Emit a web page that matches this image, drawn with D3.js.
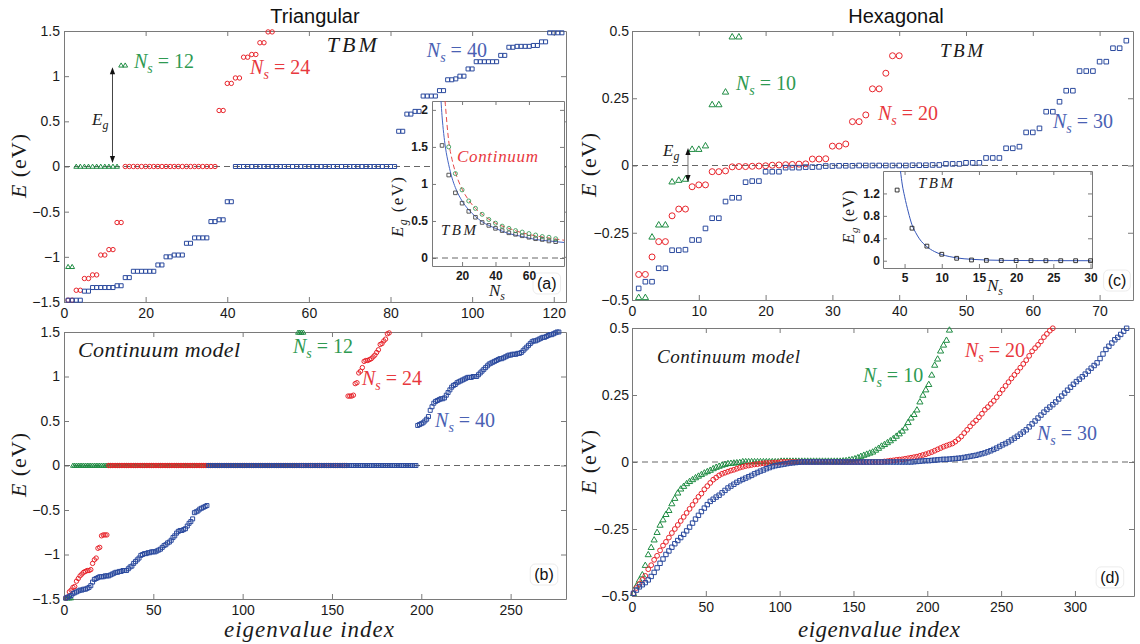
<!DOCTYPE html>
<html>
<head>
<meta charset="utf-8">
<script src="https://cdn.jsdelivr.net/npm/d3@7/dist/d3.min.js"></script>
<style>html,body{margin:0;padding:0;background:#fff}svg{display:block}</style>
</head>
<body>
<svg id="chart" width="1140" height="644" xmlns="http://www.w3.org/2000/svg"></svg>
<script>
// ================= DATA =================
// Eigenvalue index of the first entry of each spectrum
const indexStart = 1;

// (a) Triangular, TBM  (E in eV, index = 1,2,3,...)
const tbmTri12 = [-1.11,-1.11,0,0,0,0,0,0,0,0,0,0,0,1.12,1.12];
const tbmTri24 = [
 -1.48,-1.48,-1.37,-1.37,-1.24,-1.24,-1.20,-1.20,-0.98,-0.98,-0.92,-0.92,-0.62,-0.62,
 0,0,0,0,0,0,0,0,0,0,
 0,0,0,0,0,0,0,0,0,0,
 0,0,0,
 0.62,0.62,0.92,0.92,0.98,0.98,1.21,1.21,1.24,1.24,1.37,1.37,1.49,1.49];
const tbmTri40 = [
 -1.48,-1.48,-1.48,-1.48,-1.38,-1.38,-1.34,-1.34,-1.34,-1.34,
 -1.34,-1.34,-1.32,-1.32,-1.23,-1.23,-1.16,-1.16,-1.16,-1.16,
 -1.16,-1.16,-1.09,-1.09,-1.00,-1.00,-0.98,-0.98,-0.98,-0.85,
 -0.85,-0.79,-0.79,-0.79,-0.79,-0.61,-0.61,-0.59,-0.59,-0.39,
 -0.39,
 0,0,0,0,0,0,0,0,0,0,
 0,0,0,0,0,0,0,0,0,0,
 0,0,0,0,0,0,0,0,0,0,
 0,0,0,0,0,0,0,0,0,0,
 0.39,0.39,0.58,0.58,0.61,0.61,0.78,0.78,0.78,0.78,
 0.84,0.84,0.96,0.96,0.97,1.00,1.00,1.08,1.08,1.16,
 1.16,1.16,1.16,1.16,1.16,1.23,1.23,1.32,1.32,1.33,
 1.33,1.33,1.33,1.34,1.34,1.38,1.38,1.48,1.48,1.48,
 1.48];

// (a) inset: gap Eg vs Ns
const insetTriN_TBM = [8,12,16,20,24,28,32,36,40,44,48,52,56,60,64,68,72,76];
const insetTriEg_TBM = [1.52,1.12,0.88,0.74,0.63,0.55,0.48,0.44,0.40,0.37,0.34,0.32,0.30,0.28,0.26,0.25,0.23,0.22];
const insetTriN_Cont = [12,16,20,24,28,32,36,40,44,48,52,56,60,64,68,72,76];
const insetTriEg_Cont = [1.50,1.14,0.92,0.77,0.67,0.59,0.52,0.47,0.43,0.40,0.37,0.35,0.33,0.31,0.29,0.28,0.26];
const insetTriFitTBM_N = [7.4,8,9,10,12,14,16,20,24,28,32,40,48,56,64,72,81];
const insetTriFitTBM_E = [2.12,1.92,1.68,1.50,1.26,1.08,0.95,0.77,0.65,0.56,0.49,0.40,0.33,0.29,0.25,0.23,0.21];
const insetTriFitCont_N = [9.8,10,11,12,14,16,20,24,28,32,40,48,56,64,72,81];
const insetTriFitCont_E = [2.12,2.07,1.80,1.58,1.33,1.16,0.93,0.78,0.67,0.59,0.47,0.40,0.34,0.30,0.27,0.24];

// (b) Triangular, continuum model
const contTri12 = [
 -1.49,-1.49,-1.49,-1.49,
 0,0,0,0,0,0,0,0,0,0,
 0,0,0,0,0,0,0,0,0,0,
 0,0,0,0,0,0,0,0,0,0,
 0,0,0,0,0,0,0,0,0,0,
 0,0,0,0,0,0,0,0,0,0,
 0,0,0,0,0,0,0,0,0,0,
 0,0,0,0,0,0,0,0,0,0,
 0,0,0,0,0,0,0,0,0,0,
 0,0,0,0,0,0,0,0,0,0,
 0,0,0,0,0,0,0,0,0,0,
 0,0,0,0,0,0,0,0,0,0,
 0,0,0,0,0,0,0,0,0,0,
 0,0,0,0,0,0,
 1.495,1.495,1.495,1.495];
const contTri24 = [
 -1.49,-1.48,-1.42,-1.40,-1.37,-1.36,-1.30,-1.27,-1.24,-1.22,-1.20,-1.19,
 -1.18,-1.18,-1.17,-1.10,-1.06,-1.04,-0.93,-0.92,-0.79,-0.78,-0.78,-0.78,
 0,0,0,0,0,0,0,0,0,0,
 0,0,0,0,0,0,0,0,0,0,
 0,0,0,0,0,0,0,0,0,0,
 0,0,0,0,0,0,0,0,0,0,
 0,0,0,0,0,0,0,0,0,0,
 0,0,0,0,0,0,0,0,0,0,
 0,0,0,0,0,0,0,0,0,0,
 0,0,0,0,0,0,0,0,0,0,
 0,0,0,0,0,0,0,0,0,0,
 0,0,0,0,0,0,0,0,0,0,
 0,0,0,0,0,0,0,0,0,0,
 0,0,0,0,0,0,0,0,0,0,
 0,0,0,0,0,0,0,0,0,0,
 0,0,0,0,
 0.78,0.78,0.78,0.79,0.92,0.93,1.04,1.06,1.10,1.17,1.18,1.18,
 1.19,1.20,1.22,1.24,1.27,1.30,1.36,1.37,1.40,1.42,1.48,1.49];
const contTri40 = [
 -1.49,-1.48,-1.47,-1.46,-1.44,-1.43,-1.42,-1.41,-1.40,-1.40,
 -1.39,-1.39,-1.38,-1.37,-1.35,-1.31,-1.28,-1.27,-1.26,-1.25,
 -1.25,-1.25,-1.24,-1.24,-1.24,-1.23,-1.22,-1.21,-1.20,-1.20,
 -1.19,-1.19,-1.18,-1.18,-1.18,-1.16,-1.14,-1.13,-1.10,-1.08,
 -1.06,-1.04,-1.01,-1.00,-0.99,-0.99,-0.98,-0.98,-0.97,-0.97,
 -0.97,-0.96,-0.95,-0.94,-0.92,-0.90,-0.89,-0.87,-0.86,-0.84,
 -0.81,-0.79,-0.76,-0.74,-0.73,-0.73,-0.72,-0.71,-0.68,-0.65,
 -0.63,-0.60,-0.53,-0.52,-0.51,-0.49,-0.48,-0.47,-0.46,-0.45,
 0,0,0,0,0,0,0,0,0,0,
 0,0,0,0,0,0,0,0,0,0,
 0,0,0,0,0,0,0,0,0,0,
 0,0,0,0,0,0,0,0,0,0,
 0,0,0,0,0,0,0,0,0,0,
 0,0,0,0,0,0,0,0,0,0,
 0,0,0,0,0,0,0,0,0,0,
 0,0,0,0,0,0,0,0,0,0,
 0,0,0,0,0,0,0,0,0,0,
 0,0,0,0,0,0,0,0,0,0,
 0,0,0,0,0,0,0,0,0,0,
 0,0,0,0,0,0,0,
 0.45,0.46,0.47,0.48,0.50,0.52,0.55,0.62,0.66,0.70,
 0.72,0.73,0.74,0.75,0.75,0.76,0.79,0.82,0.85,0.88,
 0.90,0.91,0.93,0.94,0.95,0.96,0.97,0.98,0.99,0.99,
 0.99,1.00,1.00,1.00,1.02,1.04,1.06,1.08,1.10,1.12,
 1.14,1.15,1.16,1.17,1.18,1.19,1.20,1.20,1.21,1.22,
 1.23,1.24,1.24,1.25,1.25,1.25,1.26,1.26,1.27,1.29,
 1.31,1.33,1.35,1.37,1.39,1.40,1.40,1.41,1.42,1.43,
 1.44,1.44,1.45,1.46,1.47,1.47,1.48,1.49,1.50,1.50];

// (c) Hexagonal, TBM
const tbmHex10 = [-0.49,-0.49,-0.265,-0.22,-0.22,-0.06,-0.054,-0.05,0.061,0.061,0.074,0.227,0.227,0.274,0.479,0.479];
const tbmHex20 = [
 -0.405,-0.405,-0.34,-0.283,-0.283,-0.187,-0.162,-0.162,-0.079,-0.072,-0.072,-0.023,-0.023,-0.02,
 -0.005,-0.004,-0.004,-0.003,-0.002,-0.001,0.001,0.002,0.003,0.004,0.005,0.006,
 0.024,0.024,0.025,0.072,0.072,0.08,0.163,0.163,0.188,0.285,0.285,0.343,0.408,0.408];
const tbmHex30 = [
 -0.457,-0.432,-0.432,-0.382,-0.382,-0.315,-0.315,-0.313,-0.277,-0.277,-0.234,-0.196,-0.196,
 -0.134,-0.12,-0.12,-0.062,-0.058,-0.058,-0.023,-0.023,-0.023,-0.008,-0.008,-0.008,
 -0.006,-0.006,-0.005,-0.002,-0.002,-0.001,-0.001,-0.001,0,0,0,0,0,0,0,0,0.001,0.001,0.001,0.002,0.002,0.006,0.006,0.006,
 0.01,0.01,0.01,0.028,0.028,0.028,0.064,0.064,0.07,0.123,0.123,0.138,0.2,0.2,0.237,0.278,0.278,
 0.351,0.351,0.351,0.386,0.386,0.436,0.436,0.464];

// (c) inset
const insetHexN = [4,6,8,10,12,14,16,18,20,22,24,26,28,30];
const insetHexEg = [1.26,0.58,0.26,0.115,0.043,0.013,0.006,0.003,0.002,0.001,0,0,0,0];
const insetHexFitN = [4.45,4.7,5,5.5,6,6.5,7,8,9,10,11,12,14,16,20,25,30];
const insetHexFitE = [1.60,1.35,1.15,0.87,0.64,0.50,0.39,0.25,0.165,0.11,0.075,0.05,0.025,0.012,0.004,0.001,0];

// (d) Hexagonal, continuum model: sampled every 2nd eigenvalue index (1,3,5,...)
const hexContIndexStep = 2;
const hexCont10 = [
 -0.490,-0.462,-0.440,-0.420,-0.385,-0.345,-0.318,-0.290,-0.262,-0.235,
 -0.215,-0.195,-0.180,-0.155,-0.135,-0.115,-0.100,-0.090,-0.080,-0.072,
 -0.065,-0.058,-0.052,-0.046,-0.040,-0.035,-0.030,-0.024,-0.019,-0.015,
 -0.011,-0.008,-0.005,-0.004,-0.003,-0.002,-0.001,
 0.002,0.002,0.002,0.002,0.002,0.002,0.002,0.002,0.002,0.002,0.002,0.002,0.002,
 0.004,0.004,0.004,0.004,0.004,0.004,0.004,0.004,0.004,0.004,
 0.004,0.004,0.004,0.004,0.004,0.004,0.004,0.004,0.004,0.004,
 0.004,0.005,0.006,0.008,0.010,0.013,0.017,0.022,0.026,0.030,
 0.034,0.038,0.045,0.052,0.060,0.066,0.073,0.080,0.088,0.097,
 0.106,0.116,0.128,0.148,0.165,0.178,0.195,0.225,0.250,0.270,
 0.290,0.325,0.362,0.385,0.415,0.437,0.455,0.493];
const hexCont20 = [
 -0.490,-0.470,-0.455,-0.440,-0.425,-0.400,-0.385,-0.365,-0.350,-0.330,
 -0.312,-0.298,-0.282,-0.265,-0.250,-0.235,-0.220,-0.205,-0.190,-0.175,
 -0.160,-0.145,-0.130,-0.118,-0.102,-0.090,-0.078,-0.066,-0.058,-0.050,
 -0.044,-0.040,-0.036,-0.032,-0.029,-0.025,-0.021,-0.018,-0.015,-0.013,
 -0.011,-0.009,-0.008,-0.006,-0.005,-0.004,-0.004,-0.003,-0.002,-0.002,
 0,0,0,0,0,0,0,0,0,0,
 0,0,0,0,0,0,0,0,0,0,
 0,0,0,0,0,0,0,0,0,0,
 0,0,0,0,0,
 0.002,0.003,0.005,0.006,0.008,0.009,0.010,0.012,0.014,0.016,
 0.018,0.020,0.023,0.026,0.029,0.033,0.037,0.042,0.047,0.052,
 0.057,0.061,0.065,0.069,0.076,0.085,0.095,0.108,0.120,0.133,
 0.145,0.155,0.167,0.180,0.195,0.205,0.217,0.228,0.242,0.256,
 0.270,0.284,0.298,0.312,0.325,0.338,0.352,0.366,0.380,0.396,
 0.413,0.425,0.437,0.450,0.466,0.478,0.490,0.499];
const hexCont30 = [
 -0.490,-0.478,-0.466,-0.458,-0.450,-0.440,-0.427,-0.412,-0.395,-0.378,
 -0.362,-0.345,-0.332,-0.318,-0.305,-0.293,-0.282,-0.270,-0.257,-0.243,
 -0.228,-0.213,-0.199,-0.185,-0.172,-0.159,-0.147,-0.139,-0.131,-0.124,
 -0.115,-0.106,-0.097,-0.090,-0.083,-0.076,-0.070,-0.065,-0.060,-0.055,
 -0.050,-0.044,-0.039,-0.034,-0.030,-0.025,-0.021,-0.017,-0.014,-0.012,
 -0.010,-0.008,-0.006,-0.004,-0.003,-0.002,-0.001,
 0,0,0,0,0,0,0,0,0,0,
 0,0,0,0,0,0,0,0,0,0,
 0,0,0,0,0,0,0,0,0,0,
 0,0,0,0,0,0,0,0,
 0.001,0.002,0.003,0.004,0.005,0.005,0.006,0.007,0.008,0.009,
 0.010,0.010,0.011,0.012,0.013,0.014,0.015,0.017,0.019,0.021,
 0.023,0.025,0.028,0.031,0.034,0.038,0.042,0.047,0.052,0.058,
 0.064,0.069,0.075,0.082,0.089,0.096,0.104,0.112,0.120,0.131,
 0.142,0.153,0.164,0.175,0.186,0.196,0.205,0.214,0.224,0.235,
 0.246,0.257,0.268,0.279,0.290,0.300,0.309,0.318,0.328,0.339,
 0.350,0.360,0.370,0.386,0.403,0.420,0.432,0.444,0.456,0.465,
 0.476,0.488,0.499];

// Tick values
const tickTriX_a = [0,20,40,60,80,100,120];
const tickTriX_b = [0,50,100,150,200,250];
const tickTriY = [-1.5,-1,-0.5,0,0.5,1,1.5];
const tickHexX_c = [0,10,20,30,40,50,60,70];
const tickHexX_d = [0,50,100,150,200,250,300];
const tickHexY = [-0.5,-0.25,0,0.25,0.5];
const tickInsetTriX = [20,40,60];
const tickInsetTriY = [0,0.5,1,1.5,2];
const tickInsetHexX = [5,10,15,20,25,30];
const tickInsetHexY = [0,0.4,0.8,1.2];

// ================= STYLE / LAYOUT =================
const SANS = '"Liberation Sans", Arial, Helvetica, sans-serif';
const SERIF = '"Liberation Serif", "Times New Roman", Times, serif';
const COL = {
  green:'#1f8c43', red:'#e8242b', blue:'#2b4a9e',
  greenT:'#2e9a52', redT:'#e8383e', blueT:'#4a61b3',
  axis:'#7a7a7a', dash:'#666666', ink:'#1a1a1a'
};
const svg = d3.select('#chart');

function fmtTick(d){ const s = String(Math.abs(d)); return d < 0 ? '\u2212' + s : s; }

function buildPanel(L, xDomain, yDomain, xTicks, yTicks, o) {
  const x = d3.scaleLinear().domain(xDomain).range([L.left, L.right]);
  const y = d3.scaleLinear().domain(yDomain).range([L.bottom, L.top]);
  const g = svg.append('g');
  if (o.bg) g.append('rect').attr('x', L.left).attr('y', L.top)
      .attr('width', L.right - L.left).attr('height', L.bottom - L.top).attr('fill', '#fff');
  const tl = o.tickLen;
  g.append('g').attr('transform', `translate(0,${L.bottom})`)
    .call(d3.axisBottom(x).tickValues(xTicks).tickSizeInner(-tl).tickSizeOuter(0).tickPadding(o.xPad).tickFormat(fmtTick));
  g.append('g').attr('transform', `translate(0,${L.top})`)
    .call(d3.axisTop(x).tickValues(xTicks).tickSizeInner(-tl).tickSizeOuter(0).tickFormat(''));
  g.append('g').attr('transform', `translate(${L.left},0)`)
    .call(d3.axisLeft(y).tickValues(yTicks).tickSizeInner(-tl).tickSizeOuter(0).tickPadding(o.yPad).tickFormat(fmtTick));
  g.append('g').attr('transform', `translate(${L.right},0)`)
    .call(d3.axisRight(y).tickValues(yTicks).tickSizeInner(-tl).tickSizeOuter(0).tickFormat(''));
  g.selectAll('.domain').attr('stroke', COL.axis).attr('stroke-width', 1);
  g.selectAll('.tick line').attr('stroke', COL.axis).attr('stroke-width', 1);
  g.selectAll('.tick text').attr('font-family', SANS).attr('font-size', o.fontSize)
    .attr('font-weight', o.bold ? 'bold' : 'normal').attr('fill', COL.ink);
  const marks = svg.append('g');
  return {g: marks, x, y, L};
}

function markerPath(shape, s) {
  const p = d3.path();
  if (shape === 'circle') { p.moveTo(s, 0); p.arc(0, 0, s, 0, 2 * Math.PI); }
  else if (shape === 'square') { p.rect(-s, -s, 2 * s, 2 * s); }
  else { p.moveTo(0, -s * 1.1); p.lineTo(s * 1.1, s * 0.8); p.lineTo(-s * 1.1, s * 0.8); p.closePath(); }
  return p.toString();
}

function scatterSeq(P, values, start, step, shape, color, size, sw) {
  const pts = values.map((v, i) => [start + i * step, v]);
  P.g.append('g').selectAll('path').data(pts).join('path')
    .attr('d', markerPath(shape, size))
    .attr('transform', d => `translate(${P.x(d[0])},${P.y(d[1])})`)
    .attr('fill', 'none').attr('stroke', color).attr('stroke-width', sw);
}
function scatterXY(P, xs, ys, shape, color, size, sw) {
  const pts = xs.map((v, i) => [v, ys[i]]);
  P.g.append('g').selectAll('path').data(pts).join('path')
    .attr('d', markerPath(shape, size))
    .attr('transform', d => `translate(${P.x(d[0])},${P.y(d[1])})`)
    .attr('fill', 'none').attr('stroke', color).attr('stroke-width', sw);
}
function zeroLine(P) {
  P.g.append('line').attr('x1', P.L.left).attr('x2', P.L.right)
    .attr('y1', P.y(0)).attr('y2', P.y(0))
    .attr('stroke', COL.dash).attr('stroke-width', 1).attr('stroke-dasharray', '6,4');
}
function fitLine(P, xs, ys, color, dash, id) {
  svg.append('clipPath').attr('id', id).append('rect')
    .attr('x', P.L.left).attr('y', P.L.top).attr('width', P.L.right - P.L.left).attr('height', P.L.bottom - P.L.top);
  const line = d3.line().x(d => P.x(d[0])).y(d => P.y(d[1])).curve(d3.curveMonotoneX);
  P.g.append('path').datum(xs.map((v, i) => [v, ys[i]]))
    .attr('d', line).attr('fill', 'none').attr('stroke', color).attr('stroke-width', 1)
    .attr('stroke-dasharray', dash || null).attr('clip-path', `url(#${id})`);
}

function mathText(parent, px, py, parts, o) {
  const t = parent.append('text').attr('x', px).attr('y', py)
    .attr('font-family', SERIF).attr('font-size', o.size).attr('fill', o.color || COL.ink)
    .attr('text-anchor', o.anchor || 'start');
  if (o.textLength) t.attr('textLength', o.textLength).attr('lengthAdjust', 'spacing');
  if (o.transform) t.attr('transform', o.transform);
  let shifted = 0;
  parts.forEach(p => {
    const s = t.append('tspan').text(p.t);
    if (p.it) s.attr('font-style', 'italic');
    const want = p.sub ? o.size * 0.25 : 0;
    if (want !== shifted) { s.attr('dy', want - shifted); shifted = want; }
    if (p.sub) s.attr('font-size', o.size * 0.7);
  });
  return t;
}
function nsLabel(P, xv, yv, num, color) {
  mathText(P.g, P.x(xv), P.y(yv), [{t:'N', it:1}, {t:'s', it:1, sub:1}, {t:' = ' + num}], {size:20, color});
}
function egLabel(P, xv, yv) {
  mathText(P.g, P.x(xv), P.y(yv), [{t:'E', it:1}, {t:'g', it:1, sub:1}], {size:17, color:'#222'});
}
function vArrow(P, xv, yTop, yBot, color) {
  const X = P.x(xv), T = P.y(yTop), B = P.y(yBot);
  P.g.append('line').attr('x1', X).attr('x2', X).attr('y1', T + 4).attr('y2', B - 4)
    .attr('stroke', color).attr('stroke-width', 1);
  P.g.append('path').attr('d', `M${X},${T}L${X - 2.6},${T + 7}L${X + 2.6},${T + 7}Z`).attr('fill', '#111');
  P.g.append('path').attr('d', `M${X},${B}L${X - 2.6},${B - 7}L${X + 2.6},${B - 7}Z`).attr('fill', '#111');
}
function panelTag(P, xv, yv, label) {
  const t = P.g.append('text').attr('x', P.x(xv)).attr('y', P.y(yv)).attr('text-anchor', 'middle')
    .attr('font-family', SANS).attr('font-size', 16).attr('fill', '#111').text(label);
  const bb = t.node().getBBox();
  P.g.insert('rect', () => t.node()).attr('x', bb.x - 4).attr('y', bb.y - 2)
    .attr('width', bb.width + 8).attr('height', bb.height + 4).attr('rx', 5)
    .attr('fill', '#fff').attr('stroke', '#ececec');
}
function yTitle(px, py, parts, size, len) {
  mathText(svg, 0, 0, parts, {size, anchor:'middle', textLength:len, transform:`translate(${px},${py}) rotate(-90)`});
}

// ================= TITLES =================
svg.append('text').attr('x', 315).attr('y', 23).attr('text-anchor', 'middle')
  .attr('font-family', SANS).attr('font-size', 20).attr('fill', '#111').text('Triangular');
svg.append('text').attr('x', 896).attr('y', 23).attr('text-anchor', 'middle')
  .attr('font-family', SANS).attr('font-size', 20).attr('fill', '#111').text('Hexagonal');

const mainOpt = {tickLen:5, xPad:6, yPad:4, fontSize:14};

// ================= PANEL (a) =================
const A = buildPanel({left:64, right:566, top:31, bottom:302}, [0,123], [-1.5,1.5], tickTriX_a, tickTriY, mainOpt);
zeroLine(A);
scatterSeq(A, tbmTri12, indexStart, 1, 'triangle', COL.green, 2.2, 1);
scatterSeq(A, tbmTri24, indexStart, 1, 'circle', COL.red, 2.2, 1);
scatterSeq(A, tbmTri40, indexStart, 1, 'square', COL.blue, 2.0, 1);
nsLabel(A, 17.15, 1.09, '12', COL.greenT);
nsLabel(A, 45.6, 1.024, '24', COL.redT);
nsLabel(A, 88.9, 1.212, '40', COL.blueT);
mathText(A.g, A.x(64.4), A.y(1.268), [{t:'TBM', it:1}], {size:22, textLength:50});
vArrow(A, 11.88, 1.10, 0.039, '#444');
egLabel(A, 6.86, 0.459);

// inset (a)
const AI = buildPanel({left:432, right:564, top:101, bottom:266}, [2,81], [-0.108,2.12], tickInsetTriX, tickInsetTriY,
  {tickLen:4, xPad:5, yPad:4, fontSize:12, bold:true, bg:true});
zeroLine(AI);
fitLine(AI, insetTriFitTBM_N, insetTriFitTBM_E, '#4565c4', null, 'clipA1');
fitLine(AI, insetTriFitCont_N, insetTriFitCont_E, '#e64a4a', '5,3', 'clipA2');
scatterXY(AI, insetTriN_TBM, insetTriEg_TBM, 'square', '#4a4a4a', 1.8, 0.9);
scatterXY(AI, insetTriN_Cont, insetTriEg_Cont, 'circle', '#3c9c5a', 2.0, 0.9);
mathText(AI.g, AI.x(16.96), AI.y(1.296), [{t:'Continuum', it:1}], {size:17, color:COL.redT, textLength:81});
mathText(AI.g, AI.x(7.39), AI.y(0.311), [{t:'TBM', it:1}], {size:15, color:'#222', textLength:35});
mathText(svg, 497, 296, [{t:'N', it:1}, {t:'s', it:1, sub:1}], {size:17, anchor:'middle'});
yTitle(403, 207, [{t:'E', it:1}, {t:'g', it:1, sub:1}, {t:' (eV)'}], 17, 60);
panelTag(A, 118.3, -1.356, '(a)');

// ================= PANEL (b) =================
const B = buildPanel({left:64, right:566, top:332, bottom:599}, [0,281], [-1.5,1.5], tickTriX_b, tickTriY, {...mainOpt, xPad:6});
zeroLine(B);
scatterSeq(B, contTri12, indexStart, 1, 'triangle', COL.green, 2.2, 1);
scatterSeq(B, contTri24, indexStart, 1, 'circle', COL.red, 2.2, 1);
scatterSeq(B, contTri40, indexStart, 1, 'square', COL.blue, 2.0, 1);
mathText(B.g, B.x(7.84), B.y(1.219), [{t:'Continuum model', it:1}], {size:22, textLength:162});
nsLabel(B, 128.2, 1.264, '12', COL.greenT);
nsLabel(B, 166.8, 0.904, '24', COL.redT);
nsLabel(B, 207.7, 0.433, '40', COL.blueT);
panelTag(B, 268.7, -1.287, '(b)');

// ================= PANEL (c) =================
const Cp = buildPanel({left:632, right:1133, top:31, bottom:300}, [0,75], [-0.5,0.5], tickHexX_c, tickHexY, {...mainOpt, yPad:3});
zeroLine(Cp);
scatterSeq(Cp, tbmHex10, indexStart, 1, 'triangle', COL.green, 2.9, 1);
scatterSeq(Cp, tbmHex20, indexStart, 1, 'circle', COL.red, 3.0, 1);
scatterSeq(Cp, tbmHex30, indexStart, 1, 'square', COL.blue, 2.3, 1);
nsLabel(Cp, 15.57, 0.281, '10', COL.greenT);
nsLabel(Cp, 36.83, 0.169, '20', COL.redT);
nsLabel(Cp, 63.02, 0.139, '30', COL.blueT);
mathText(Cp.g, Cp.x(46.11), Cp.y(0.403), [{t:'TBM', it:1}], {size:19, textLength:43});
vArrow(Cp, 8.38, 0.065, -0.061, '#777');
egLabel(Cp, 4.64, 0.035);

// inset (c)
const CI = buildPanel({left:883, right:1092, top:171, bottom:268}, [2.1,30.2], [-0.13,1.6], tickInsetHexX, tickInsetHexY,
  {tickLen:4, xPad:5, yPad:3, fontSize:12, bold:true, bg:true});
fitLine(CI, insetHexFitN, insetHexFitE, '#3556b8', null, 'clipC1');
scatterXY(CI, insetHexN, insetHexEg, 'square', '#222', 1.9, 0.9);
mathText(CI.g, CI.x(6.81), CI.y(1.297), [{t:'TBM', it:1}], {size:15, color:'#222', textLength:35});
mathText(svg, 995, 291, [{t:'N', it:1}, {t:'s', it:1, sub:1}], {size:17, anchor:'middle'});
yTitle(854, 217, [{t:'E', it:1}, {t:'g', it:1, sub:1}, {t:' (eV)'}], 16, 53);
panelTag(Cp, 72.6, -0.448, '(c)');

// ================= PANEL (d) =================
const D = buildPanel({left:632, right:1134, top:328, bottom:596}, [0,340], [-0.5,0.5], tickHexX_d, tickHexY, {...mainOpt, yPad:3});
zeroLine(D);
scatterSeq(D, hexCont10, indexStart, hexContIndexStep, 'triangle', COL.green, 2.8, 1);
scatterSeq(D, hexCont20, indexStart, hexContIndexStep, 'circle', COL.red, 2.4, 1);
scatterSeq(D, hexCont30, indexStart, hexContIndexStep, 'square', COL.blue, 2.2, 1);
mathText(D.g, D.x(16.93), D.y(0.369), [{t:'Continuum model', it:1}], {size:19, textLength:143});
nsLabel(D, 156.5, 0.299, '10', COL.greenT);
nsLabel(D, 225.5, 0.392, '20', COL.redT);
nsLabel(D, 274.3, 0.082, '30', COL.blueT);
panelTag(D, 323.7, -0.451, '(d)');

// ================= AXIS TITLES =================
const eTitle = [{t:'E', it:1}, {t:' (eV)'}];
yTitle(26, 166, eTitle, 22, 64);
yTitle(26, 465, eTitle, 22, 64);
yTitle(596, 165, eTitle, 22, 64);
yTitle(596, 462, eTitle, 22, 64);
mathText(svg, 309, 637, [{t:'eigenvalue index', it:1}], {size:23, anchor:'middle', textLength:170});
mathText(svg, 879, 637, [{t:'eigenvalue index', it:1}], {size:23, anchor:'middle', textLength:162});
</script>
</body>
</html>
